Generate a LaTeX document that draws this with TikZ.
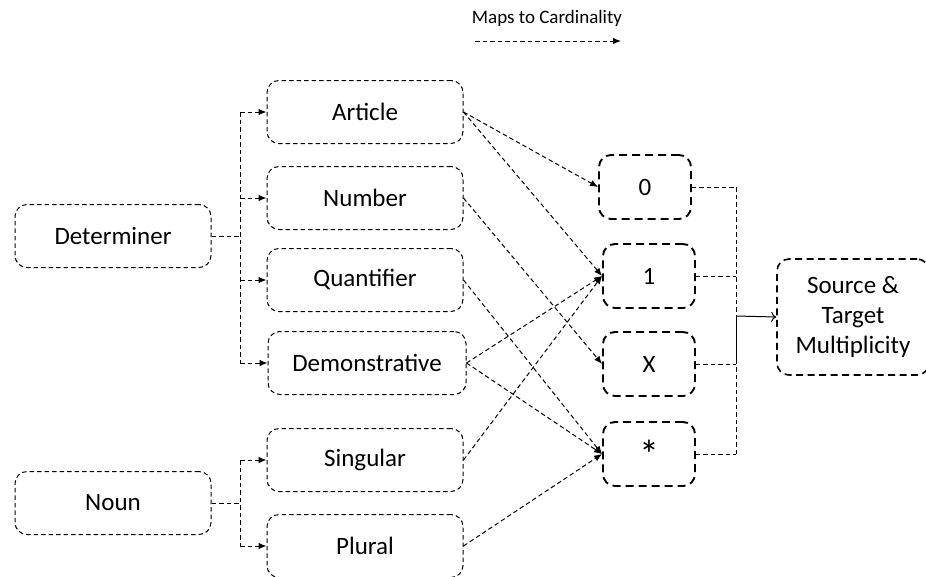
\documentclass[tikz,border=0pt]{standalone}
\usepackage{fontspec}
\setmainfont{Carlito}
\usetikzlibrary{arrows.meta}
\begin{document}
\begin{tikzpicture}[x=1pt,y=-1pt,
  txt/.style={font=\fontsize{25}{30}\selectfont},
  box/.style={txt, draw=black, dash pattern=on 4.5pt off 3pt, line width=1pt,
    rounded corners=12pt, minimum width=196pt, minimum height=63pt, inner sep=0pt},
  card/.style={txt, draw=black, dash pattern=on 8pt off 5pt, line width=1.9pt,
    rounded corners=12pt, minimum width=92pt, minimum height=64pt, inner sep=0pt},
  wire/.style={draw=black, dash pattern=on 4.5pt off 3pt, line width=1pt},
  link/.style={wire, -{Latex[length=8pt,width=6.5pt]}},
]
\useasboundingbox (0,0) rectangle (926,576);

% legend
\node[font=\fontsize{19}{23}\selectfont] (legend) at (547,18) {Maps to Cardinality};
\coordinate (la) at (475,41);
\coordinate (lb) at (621,41);
\draw[link] (la) -- (lb);

% left column
\node[box] (det) at (113,236) {Determiner};
\node[box] (noun) at (113,503) {Noun};

% middle column
\node[box] (art)  at (365,112) {Article};
\node[box] (num)  at (365,198) {Number};
\node[box] (qua)  at (365,280) {Quantifier};
\node[box, minimum width=198pt] (dem)  at (367,363) {Demonstrative};
\node[box] (sing) at (365,460) {Singular};
\node[box] (plu)  at (365,546) {Plural};

% cardinalities
\node[card] (c0)   at (645,187) {0};
\node[card] (c1)   at (649,276) {1};
\node[card] (cx)   at (649,364) {X};
\node[card] (cs)   at (649,454) {\raisebox{-5pt}{\fontsize{40}{40}\selectfont *}};

% result
\node[box, dash pattern=on 7pt off 4.5pt, line width=1.6pt, minimum width=152pt,
  minimum height=116pt, align=center] (src) at (853,317)
  {Source \&\\Target\\Multiplicity};

% determiner fan-out
\coordinate (dbus) at (240,236);
\draw[wire] (det.east) -- (dbus);
\draw[wire] (dbus |- art.west) -- (dbus |- dem.west);
\foreach \t in {art,num,qua,dem}
  \draw[link] (dbus |- \t.west) -- (\t.west);

% noun fan-out
\coordinate (nbus) at (240,503);
\draw[wire] (noun.east) -- (nbus);
\draw[wire] (nbus |- sing.west) -- (nbus |- plu.west);
\foreach \t in {sing,plu}
  \draw[link] (nbus |- \t.west) -- (\t.west);

% mappings to cardinality
\draw[link] (art.east) -- (c0.west);
\draw[link] (art.east) -- (c1.west);
\draw[link] (num.east) -- (cx.west);
\draw[link] (qua.east) -- (cs.west);
\draw[link] (dem.east) -- (c1.west);
\draw[link] (dem.east) -- (cs.west);
\draw[link] (sing.east) -- (c1.west);
\draw[link] (plu.east) -- (cs.west);

% merge into multiplicity
\coordinate (bus) at (736,316);
\foreach \c in {c0,c1,cx,cs}
  \draw[wire] (\c.east) -- (bus |- \c.east);
\draw[wire] (bus |- c0.east) -- (bus |- cs.east);
\draw[line width=1pt] (bus) -- (bus |- cx.east);
\draw[line width=1pt, -{To[length=5pt,width=10pt]}] (bus) -- (src.west);
\end{tikzpicture}
\end{document}
